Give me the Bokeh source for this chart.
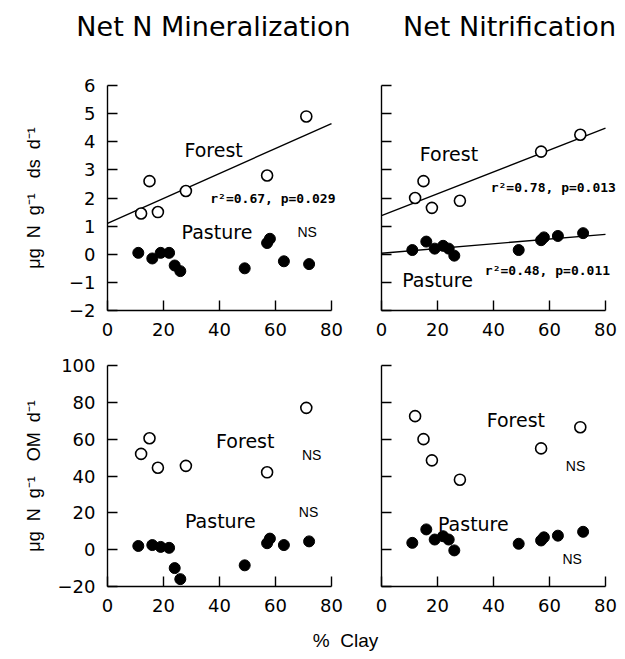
import numpy as np
from bokeh.plotting import figure
from bokeh.layouts import column, row
from bokeh.models import Label, Range1d, FixedTicker
from bokeh.embed import file_html
from bokeh.resources import INLINE

# ---------------- data ----------------
clay_forest = [12, 15, 18, 28, 57, 71]
clay_pasture = [11, 16, 19, 22, 24, 26, 49, 57, 58, 63, 72]

min_ds_forest = [1.45, 2.6, 1.5, 2.25, 2.8, 4.9]
min_ds_pasture = [0.05, -0.15, 0.05, 0.05, -0.4, -0.6, -0.5, 0.4, 0.55, -0.25, -0.35]

nit_ds_forest = [2.0, 2.6, 1.65, 1.9, 3.65, 4.25]
nit_ds_pasture = [0.15, 0.45, 0.2, 0.3, 0.2, -0.05, 0.15, 0.5, 0.6, 0.65, 0.75]

min_om_forest = [52, 60.5, 44.5, 45.5, 42, 77]
min_om_pasture = [2, 2.5, 1.5, 1, -10, -16, -8.5, 3.5, 6, 2.5, 4.5]

nit_om_forest = [72.5, 60, 48.5, 38, 55, 66.5]
nit_om_pasture = [3.7, 11, 5.5, 7.3, 5.5, -0.4, 3.2, 5, 6.7, 7.6, 9.7]

x_ticks = [0, 20, 40, 60, 80]
x_tick_labels = ["0", "20", "40", "60", "80"]
y_ticks_ds = [-2, -1, 0, 1, 2, 3, 4, 5, 6]
y_tick_labels_ds = ["\u22122", "\u22121", "0", "1", "2", "3", "4", "5", "6"]
y_ticks_om = [-20, 0, 20, 40, 60, 80, 100]
y_tick_labels_om = ["\u221220", "0", "20", "40", "60", "80", "100"]

col_titles = ["Net N Mineralization", "Net Nitrification"]
y_titles = ["\u03bcg\u00a0 N\u00a0 g\u207b\u00b9\u00a0 \u00a0ds\u00a0 d\u207b\u00b9",
            "\u03bcg\u00a0 N\u00a0 g\u207b\u00b9\u00a0 \u00a0OM\u00a0 d\u207b\u00b9"]
x_title = "%\u00a0 Clay"
group_names = ["Forest", "Pasture"]
stats_text = ["r\u00b2=0.67, p=0.029", "r\u00b2=0.78, p=0.013", "r\u00b2=0.48, p=0.011", "NS"]

TICK_FONT = "DejaVu Sans"
LBL_FONT = "Liberation Sans"
PX_PER_X = 224 / 80.0   # pixels per % clay inside each panel


def panel(width, height, bl, br, bt, bb, yticks, ylabels, ytitle=None, ytitle_standoff=0):
    frame_w = width - bl - br
    p = figure(width=width, height=height,
               x_range=Range1d(x_ticks[0], x_ticks[0] + frame_w / PX_PER_X),
               y_range=Range1d(yticks[0], yticks[-1]),
               output_backend="svg", toolbar_location=None,
               min_border_left=bl, min_border_right=br,
               min_border_top=bt, min_border_bottom=bb)
    p.grid.visible = False
    p.outline_line_color = None
    for ax in (p.xaxis[0], p.yaxis[0]):
        ax.axis_line_color = "black"
        ax.axis_line_width = 1.4
        ax.major_tick_in = 10
        ax.major_tick_out = 0
        ax.major_tick_line_color = "black"
        ax.major_tick_line_width = 1.4
        ax.minor_tick_line_color = None
        ax.major_label_text_font = TICK_FONT
        ax.major_label_text_font_size = "18px"
        ax.major_label_text_color = "black"
    p.xaxis.bounds = (x_ticks[0], x_ticks[-1])
    p.xaxis.ticker = FixedTicker(ticks=x_ticks)
    p.xaxis.major_label_overrides = dict(zip(x_ticks, x_tick_labels))
    p.xaxis.major_label_standoff = 12
    p.yaxis.ticker = FixedTicker(ticks=yticks)
    p.yaxis.major_label_overrides = dict(zip(yticks, ylabels))
    p.yaxis.major_label_standoff = 12
    if ytitle:
        p.yaxis.axis_label = ytitle
        p.yaxis.axis_label_text_font = LBL_FONT
        p.yaxis.axis_label_text_font_size = "18px"
        p.yaxis.axis_label_text_font_style = "normal"
        p.yaxis.axis_label_text_color = "black"
        p.yaxis.axis_label_standoff = ytitle_standoff
    return p


def draw(p, yf, yp, fit_forest=False, fit_pasture=False):
    xs = np.array([x_ticks[0], x_ticks[-1]], dtype=float)
    for flag, x, y in ((fit_forest, clay_forest, yf), (fit_pasture, clay_pasture, yp)):
        if flag:
            b, a = np.polyfit(x, y, 1)
            p.line(xs, a + b * xs, line_color="black", line_width=1.4)
    p.scatter(clay_forest, yf, marker="circle", size=11, fill_color="white",
              line_color="black", line_width=1.6)
    p.scatter(clay_pasture, yp, marker="circle", size=11, fill_color="black",
              line_color="black", line_width=1)


def txt(p, x, y, text, kind="group", align="center"):
    if kind == "group":
        kw = dict(text_font="DejaVu Sans", text_font_size="19px")
    elif kind == "stat":
        kw = dict(text_font="DejaVu Sans Mono", text_font_size="13px", text_font_style="bold")
    elif kind == "ns":
        kw = dict(text_font=LBL_FONT, text_font_size="14px")
    elif kind == "title":
        kw = dict(text_font="DejaVu Sans", text_font_size="27px")
    else:
        kw = dict(text_font=LBL_FONT, text_font_size="19px")
    p.add_layout(Label(x=x, y=y, text=text, text_align=align, text_baseline="middle",
                       text_color="black", **kw))


def text_strip(width, height):
    f = figure(width=width, height=height, x_range=Range1d(0, width), y_range=Range1d(0, height),
               output_backend="svg", toolbar_location=None,
               x_axis_location=None, y_axis_location=None, min_border=0)
    f.grid.visible = False
    f.outline_line_color = None
    return f


# ---------------- column titles ----------------
head = text_strip(622, 45)
txt(head, 213, 19, col_titles[0], "title")
txt(head, 509, 19, col_titles[1], "title")

# ---------------- top row ----------------
tl = panel(356, 300, 107, 0, 40, 35, y_ticks_ds, y_tick_labels_ds, y_titles[0], 22)
draw(tl, min_ds_forest, min_ds_pasture, fit_forest=True)
txt(tl, 37.9, 3.69, group_names[0])
txt(tl, 36.7, 2.0, stats_text[0], "stat", "left")
txt(tl, 39.1, 0.79, group_names[1])
txt(tl, 71.3, 0.79, stats_text[3], "ns")

tr = panel(266, 300, 25, 0, 40, 35, y_ticks_ds, [""] * len(y_ticks_ds))
draw(tr, nit_ds_forest, nit_ds_pasture, fit_forest=True, fit_pasture=True)
txt(tr, 24.1, 3.57, group_names[0])
txt(tr, 39.0, 2.39, stats_text[1], "stat", "left")
txt(tr, 20.0, -0.91, group_names[1])
txt(tr, 36.9, -0.58, stats_text[2], "stat", "left")

# ---------------- bottom row ----------------
bl = panel(356, 279, 107, 25, 20, 34, y_ticks_om, y_tick_labels_om, y_titles[1], 11)
draw(bl, min_om_forest, min_om_pasture)
txt(bl, 49.2, 59.0, group_names[0])
txt(bl, 72.9, 51.4, stats_text[3], "ns")
txt(bl, 40.3, 15.6, group_names[1])
txt(bl, 71.8, 20.4, stats_text[3], "ns")

br = panel(266, 279, 25, 17, 16, 38, y_ticks_om, [""] * len(y_ticks_om))
draw(br, nit_om_forest, nit_om_pasture)
txt(br, 48.0, 70.4, group_names[0])
txt(br, 69.3, 45.7, stats_text[3], "ns")
txt(br, 32.8, 14.2, group_names[1])
txt(br, 68.1, -4.8, stats_text[3], "ns")

# ---------------- shared x title ----------------
foot = text_strip(622, 30)
txt(foot, 345, 14, x_title, "xtitle")

layout = column(head, row(tl, tr), row(bl, br), foot)
open("out.html", "w").write(file_html(layout, INLINE))
